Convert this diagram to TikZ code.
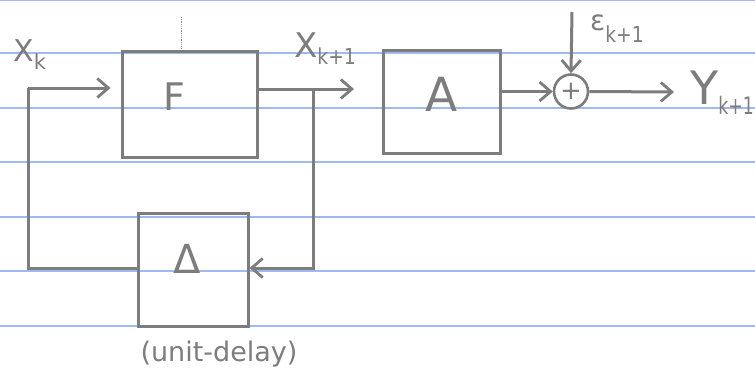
\documentclass[tikz,border=0pt]{standalone}
\usepackage{fontspec}
\setmainfont{DejaVu Sans}
\usetikzlibrary{arrows.meta}
\definecolor{pencil}{RGB}{125,125,125}
\definecolor{ruled}{RGB}{160,185,240}
\begin{document}
\begin{tikzpicture}[x=1pt,y=-1pt,
  blk/.style={draw=pencil, line width=3pt, inner sep=0pt},
  wire/.style={draw=pencil, line width=3pt},
  arr/.style={wire, -{Straight Barb[length=11pt,width=19pt,line width=2.8pt]}},
  lbl/.style={text=pencil, inner sep=0pt},
  sumnode/.style={draw=pencil, line width=2.6pt, circle, minimum size=34pt, inner sep=0pt}]
\useasboundingbox (0,0) rectangle (755,375);
\fill[white] (0,0) rectangle (755,375);
\foreach \y in {0.5,53,108,162,217,271,326}
  \draw[ruled, line width=1.2pt] (0,\y) -- (755,\y);
\draw[red!60, densely dotted, line width=0.8pt] (181,17) -- (181,49);
% blocks
\node[blk, minimum width=135pt, minimum height=106pt] (F) at (189.5,104) {};
\node[lbl, font=\fontsize{38}{40}\selectfont] (Fl) at (174,97) {F};
\node[blk, minimum width=117pt, minimum height=103pt] (A) at (441.5,101.5) {};
\node[lbl, font=\fontsize{47}{49}\selectfont] (Al) at (442,94) {A};
\node[blk, minimum width=110pt, minimum height=113pt] (D) at (193,269.5) {};
\node[lbl, font=\fontsize{40}{42}\selectfont] (Dl) at (187,259) {Δ};
\node[lbl, font=\fontsize{27}{29}\selectfont] (ud) at (219,354) {(unit-delay)};
\node[sumnode, font=\fontsize{26}{28}\selectfont, text=pencil] (S) at (571,91.5) {+};
% coordinates
\coordinate (in) at (28,88);
\coordinate (lo) at (28,268);
\coordinate (br) at (313,89);
\coordinate (bl) at (313,268);
\coordinate (xo) at (354,89);
\coordinate (e) at (572,12);
\coordinate (yo) at (674,92);
% wires
\draw[wire] (D.west |- lo) -- (lo) -- (in);
\draw[arr, shorten >=10pt] (in) -- (F.west |- in);
\draw[arr] (F.east |- xo) -- (xo);
\draw[arr] (br) -- (bl) -- (D.east |- bl);
\draw[arr] (A.east |- S) -- (S.west);
\draw[arr] (e) -- (S.north);
\draw[arr] (S.east) -- (yo);
% labels
\node[lbl, anchor=north west, font=\fontsize{30}{32}\selectfont] (xk) at (13,39) {X\raisebox{-8pt}{\fontsize{21}{21}\selectfont k}};
\node[lbl, anchor=north west, font=\fontsize{34}{36}\selectfont] (xk1) at (294,33) {X\raisebox{-7pt}{\scalebox{0.85}[1]{\fontsize{22}{22}\selectfont k+1}}};
\node[lbl, anchor=north west, font=\fontsize{28}{30}\selectfont] (ep) at (590,15) {ε\raisebox{-12pt}{\scalebox{0.85}[1]{\fontsize{22}{22}\selectfont k+1}}};
\node[lbl, anchor=north west, font=\fontsize{46}{48}\selectfont] (yl) at (690,71) {Y\raisebox{-10pt}{\scalebox{0.72}[1]{\fontsize{24}{24}\selectfont k+1}}};
\end{tikzpicture}
\end{document}
